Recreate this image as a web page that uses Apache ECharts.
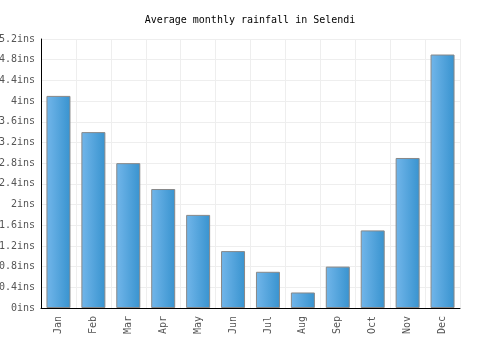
<!DOCTYPE html>
<html>
<head>
<meta charset="utf-8">
<script src="https://cdn.jsdelivr.net/npm/echarts@6/dist/echarts.min.js"></script>
<style>
  body { margin: 0; background: #fff; }
  #main { width: 500px; height: 350px; }
</style>
</head>
<body>
<div id="main"></div>
<script>
var months = ["Jan", "Feb", "Mar", "Apr", "May", "Jun", "Jul", "Aug", "Sep", "Oct", "Nov", "Dec"];
var rainfall = [4.1, 3.4, 2.8, 2.3, 1.8, 1.1, 0.7, 0.3, 0.8, 1.5, 2.9, 4.9];

var myChart = echarts.init(document.getElementById('main'));

var font = 'DejaVu Sans Mono, monospace';

var option = {
    animation: false,
    title: {
        text: 'Average monthly rainfall in Selendi',
        left: 'center',
        top: 10,
        textStyle: { fontFamily: font, fontSize: 10, fontWeight: 'normal', color: '#000' }
    },
    grid: { left: 41, right: 40, top: 39, bottom: 42, outerBoundsMode: 'none', containLabel: false },
    xAxis: {
        type: 'category',
        data: months,
        axisLine: { lineStyle: { color: '#000', width: 1 } },
        axisTick: { show: false },
        splitLine: { show: true, lineStyle: { color: '#eeeeee' } },
        axisLabel: { rotate: 90, fontFamily: font, fontSize: 10, color: '#555', margin: 8 }
    },
    yAxis: {
        type: 'value',
        min: 0,
        max: 5.2,
        interval: 0.4,
        axisLine: { show: true, lineStyle: { color: '#000', width: 1 } },
        axisTick: { show: false },
        splitLine: { lineStyle: { color: '#eeeeee' } },
        axisLabel: {
            fontFamily: font, fontSize: 10, color: '#555', margin: 6,
            formatter: function (v) { return (Math.round(v * 10) / 10) + 'ins'; }
        }
    },
    series: [{
        type: 'bar',
        data: rainfall,
        barWidth: 24,
        itemStyle: {
            borderColor: '#888',
            borderWidth: 1,
            color: new echarts.graphic.LinearGradient(0, 0, 1, 0, [
                { offset: 0, color: '#72b6ea' },
                { offset: 1, color: '#3893cf' }
            ])
        }
    }]
};

myChart.setOption(option);
</script>
</body>
</html>
